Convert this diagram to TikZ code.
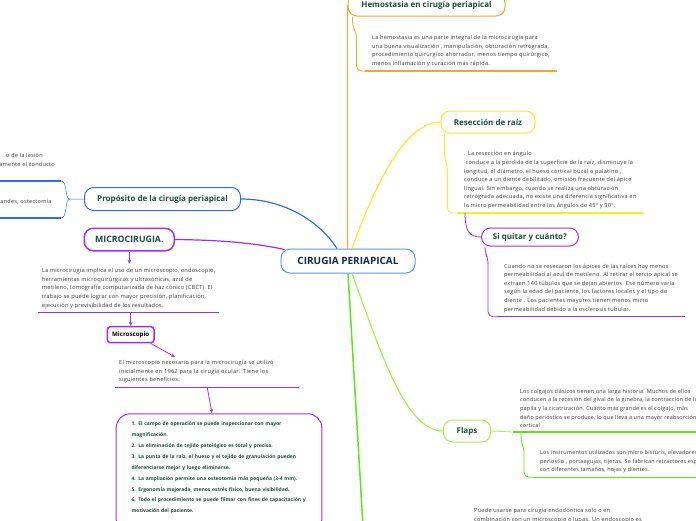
\documentclass[tikz,border=0pt]{standalone}
\usepackage{fontspec}
\setmainfont{Open Sans}
\newfontfamily\cuerpo[LetterSpace=4.2]{Open Sans}
\newfontfamily\cuerpob[LetterSpace=3.2]{Open Sans}
\usetikzlibrary{arrows.meta}
\definecolor{naranja}{HTML}{F5A52B}
\definecolor{amarillo}{HTML}{EFEF2A}
\definecolor{morado}{HTML}{A32CF2}
\definecolor{verdeclaro}{HTML}{A8EE4C}
\definecolor{lima}{HTML}{5CE51A}
\definecolor{azul}{HTML}{2F6BF0}
\definecolor{azulcentro}{HTML}{5A9AD6}
\definecolor{azuloscuro}{HTML}{13284A}
\definecolor{titulo}{HTML}{1D4D3C}
\definecolor{gris}{HTML}{3A3A3A}

\begin{document}
\begin{tikzpicture}[x=1pt,y=-1pt,
    tema/.style={draw,fill=white,rounded corners=9pt,line width=1pt,inner sep=0pt,
      text=titulo,font=\fontsize{8}{9}\selectfont\bfseries},
    texto/.style={anchor=south west,align=left,text=gris,inner xsep=7pt,inner ysep=4pt,
      font=\cuerpo\fontsize{5.6}{8.6}\selectfont},
    textob/.style={texto,font=\cuerpob\fontsize{5.7}{8.7}\selectfont},
    rama/.style={line width=.8pt},
    conecta/.style={line width=1.2pt},
    subraya/.style={line width=1.4pt},
    flecha/.style={morado,line width=.8pt,-{Stealth[length=4pt,width=3.5pt]}}]

% Marco
\useasboundingbox (0,0) rectangle (696,520);

% Centro
\node[tema,draw=azulcentro,text=azuloscuro,minimum width=134pt,minimum height=24pt,
  font=\fontsize{10}{11}\selectfont\bfseries] (cen) at (348,261) {CIRUGIA PERIAPICAL};

% Hemostasia
\node[tema,draw=naranja,minimum width=157pt,minimum height=22pt] (hem) at (426.5,5) {Hemostasia en cirugía periapical};
\node[texto] (hemtxt) at (365,71) {La hemostasia es una parte integral de la microcirugía para\\
una buena visualización , manipulación, obturación retrógrada,\\
procedimiento quirúrgico ahorrador, menos tiempo quirúrgico,\\
menos inflamación y curación más rápida.};
\draw[naranja,line width=1.5pt] (cen.north -| hem.west) -- (hem.west);
\draw[naranja,rama,rounded corners=5pt] ([xshift=5pt]hem.south west) -- ++(0,10) -- ++(4,7) |- (hemtxt.south west);
\draw[naranja,subraya] (hemtxt.south west) -- (hemtxt.south east);

% Reseccion
\node[tema,draw=amarillo,minimum width=94pt,minimum height=22pt] (res) at (488,122) {Resección de raíz};
\node[texto] (restxt) at (457,213) {. La resección en ángulo\\
\hspace*{1.5pt}conduce a la pérdida de la superficie de la raíz, disminuye la\\
longitud, el diámetro, el hueso cortical bucal o palatino ,\\
conduce a un diente debilitado, omisión frecuente del ápice\\
lingual. Sin embargo, cuando se realiza una obturación\\
retrógrada adecuada, no existe una diferencia significativa en\\
la micro permeabilidad entre los ángulos de 45° y 90°.};
\draw[amarillo,conecta] ([xshift=4pt]cen.north) .. controls (375,185) and (405,122) .. (res.west);
\draw[amarillo,rama,rounded corners=5pt] ([xshift=4pt]res.south west) -- ++(0,25) -- ++(3,7) |- (restxt.south west);
\draw[amarillo,subraya] (restxt.south west) -- (restxt.south east);

% Si quitar
\node[tema,draw=morado,minimum width=97pt,minimum height=18pt] (siq) at (530,237) {Si quitar y cuánto?};
\node[texto] (siqtxt) at (497,316.7) {Cuando no se resecaron los ápices de las raíces hay menos\\
permeabilidad al azul de metileno. Al retirar el tercio apical se\\
extraen.140 túbulos que se dejan abiertos. Ese número varía\\
según la edad del paciente, los factores locales y el tipo de\\
diente . Los pacientes mayores tienen menos micro\\
permeabilidad debido a la esclerosis tubular.};
\draw[morado,rama] ([xshift=8pt]restxt.south west) .. controls (465,232) and (470,237) .. (siq.west);
\draw[morado,rama,rounded corners=5pt] ([xshift=4pt]siq.south west) -- ++(0,6) -- ++(3,6) |- (siqtxt.south west);
\draw[morado,subraya] (siqtxt.south west) -- (siqtxt.south east);

% Flaps
\node[tema,draw=verdeclaro,minimum width=47pt,minimum height=22pt] (fla) at (467,431) {Flaps};
\draw[verdeclaro,conecta] ([xshift=4pt]cen.south) .. controls (380,350) and (405,431) .. (fla.west);
\node[textob,font=\cuerpob\fontsize{5.5}{8.6}\selectfont] (flatxt) at (513,432) {Los colgajos clásicos tienen una larga historia. Muchos de ellos\\
conducen a la recesión del gival de la ginebra, la contracción de la\\
papila y la cicatrización. Cuanto más grande es el colgajo, más\\
daño perióstico se produce, lo que lleva a una mayor reabsorción\\
cortical};
\draw[verdeclaro,rama] (fla.east) -- (flatxt.south west);
\draw[lima,subraya] (flatxt.south west) -- (flatxt.south east);
\node[textob,font=\cuerpob\fontsize{5.5}{8.6}\selectfont] (flatxt2) at (533,477.3) {Los instrumentos utilizados son micro bisturís, elevadores de\\
periostio , portaagujas, tijeras. Se fabrican retractores especiales\\
con diferentes tamaños, hojas y dientes.};
\draw[lima,rama,rounded corners=5pt] ([xshift=8pt]flatxt.south west) -- ++(0,10) -- ++(3,6) |- (flatxt2.south west);
\draw[lima,subraya] (flatxt2.south west) -- (flatxt2.south east);

% Rama inferior
\coordinate (abajo) at (365,560);
\draw[lima,line width=1.5pt] (cen.south) -- (abajo);
\node[texto,anchor=north west,inner sep=0pt] (fintxt) at (474,508) {Puede usarse para cirugía endodóntica solo o en\\
combinación con un microscopio o lupas. Un endoscopio es};

% Proposito
\node[tema,draw=azul,minimum width=156pt,minimum height=23pt] (pro) at (162.5,199) {Propósito de la cirugía periapical};
\draw[azul,conecta] ([xshift=-11pt]cen.north) .. controls (320,222) and (285,199) .. (pro.east);
\coordinate (llave) at (70,199);
\coordinate (sub1) at (61,181);
\coordinate (sub2) at (61,218);
\draw[azul,line width=.5pt] (pro.west) -- (llave) .. controls (64,199) and (68,181) .. (sub1);
\draw[azul,line width=.5pt] (llave) .. controls (64,199) and (68,218) .. (sub2);
\draw[azul,subraya] (sub1) -- ++(-70,0);
\draw[azul,subraya] (sub2) -- ++(-70,0);
\node[texto,anchor=base east,inner sep=0pt] (lesion) at (43,157.2) {o de la lesión};
\node[texto,anchor=base east,inner sep=0pt] (conducto) at (55,166.2) {amente el conducto};
\node[texto,anchor=base east,inner sep=0pt] (ostec) at (51.7,203.5) {randes, ostectomía};

% Microcirugia
\node[tema,draw=morado,line width=1.5pt,minimum width=90pt,minimum height=22.5pt,
  font=\fontsize{8.8}{10}\selectfont\bfseries] (mic) at (129.3,239.5) {MICROCIRUGIA.};
\draw[morado,conecta] (mic.east) .. controls (220,240) and (255,243) .. ([xshift=4pt,yshift=-1pt]cen.north west);
\node[textob,inner xsep=4pt] (mictxt) at (37.7,312.7) {La microcirugía implica el uso de un microscopio, endoscopio,\\
herramientas microquirúrgicas y ultrasónicas, azul de\\
metileno, tomografía computarizada de haz cónico (CBCT). El\\
trabajo se puede lograr con mayor precisión, planificación,\\
ejecución y previsibilidad de los resultados.};
\draw[flecha] (mic.south) -- (mic.south |- mictxt.north);
\draw[morado,subraya] (mictxt.south west) -- (mictxt.south east);

% Microscopio
\node[draw=morado,fill=white,line width=1.5pt,rounded corners=3pt,minimum width=46.7pt,minimum height=16pt,
  inner sep=0pt,font=\fontsize{6.2}{7}\selectfont\bfseries] (mcr) at (130.7,334.7) {Microscopio};
\draw[flecha] (mictxt.south -| mcr.north) -- (mcr.north);
\coordinate (punta) at (175,357);
\draw[flecha] ([xshift=-4pt]mcr.south east) -- (punta);
\node[texto,inner xsep=4pt,text width=176pt] (mcrtxt) at (115,387.3) {El microscopio necesario para la microcirugía se utilizó\\
inicialmente en 1962 para la cirugía ocular. Tiene los\\
siguientes beneficios:};
\draw[morado,subraya] (mcrtxt.south west) -- (mcrtxt.south east);

% Beneficios
\node[draw=morado,line width=1pt,rounded corners=14pt,anchor=north west,align=left,text width=175pt,
  inner xsep=15.3pt,inner ysep=8pt,text depth=100pt,text=titulo,
  font=\fontsize{5}{10.9}\selectfont\bfseries] (caja) at (115.7,413.3) {1. El campo de operación se puede inspeccionar con mayor\\
magnificación.\\
2. La eliminación de tejido patológico es total y precisa.\\
3. La punta de la raíz, el hueso y el tejido de granulación pueden\\
diferenciarse mejor y luego eliminarse.\\
4. La ampliación permite una osteotomía más pequeña (3-4 mm).\\
5. Ergonomía mejorada, menos estrés físico, buena visibilidad.\\
6. Todo el procedimiento se puede filmar con fines de capacitación y\\
motivación del paciente.};
\draw[flecha] (mcrtxt.south) -- ([xshift=-7pt]caja.north);

\end{tikzpicture}
\end{document}
